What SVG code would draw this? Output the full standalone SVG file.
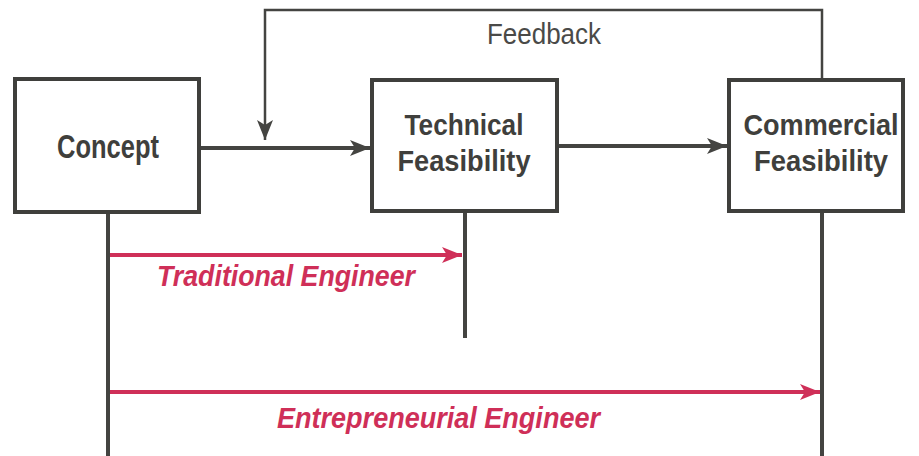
<svg xmlns="http://www.w3.org/2000/svg" width="919" height="456" viewBox="0 0 919 456">
<style>
.box{fill:#fff;stroke:#3f3f3c;stroke-width:4}
.lbl{font-family:"Liberation Sans",Arial,sans-serif;font-weight:bold;font-size:30px;fill:#3f3f3c;text-anchor:middle}
.ln{fill:none;stroke:#444441;stroke-width:4}
.red{fill:none;stroke:#cf2f58;stroke-width:4}
.rt{font-family:"Liberation Sans",Arial,sans-serif;font-weight:bold;font-style:italic;font-size:29px;fill:#cf2f58}
</style>
<defs>
<marker id="ag" viewBox="0 0 20 16" refX="20" refY="8" markerWidth="20" markerHeight="16" markerUnits="userSpaceOnUse" orient="auto"><path d="M0,0 L20,8 L0,16 L5,8 Z" fill="#444441"/></marker>
<marker id="ar" viewBox="0 0 20 16" refX="20" refY="8" markerWidth="20" markerHeight="16" markerUnits="userSpaceOnUse" orient="auto"><path d="M0,0 L20,8 L0,16 L5,8 Z" fill="#cf2f58"/></marker>
</defs>
<g id="connectors">
<path class="ln" d="M199,148 L370,148" marker-end="url(#ag)"/>
<path class="ln" d="M557,146 L727,146" marker-end="url(#ag)"/>
<path class="ln" style="stroke-width:2.5" d="M822,80 L822,10 L265,10 L265,140" marker-end="url(#ag)"/>
<path class="ln" d="M108,212 L108,456"/>
<path class="ln" d="M465,211 L465,338"/>
<path class="ln" d="M822,211 L822,456"/>
<path class="red" d="M110,255 L462,255" marker-end="url(#ar)"/>
<path class="red" d="M110,392 L820,392" marker-end="url(#ar)"/>
<text x="487" y="44" font-family="Liberation Sans,Arial,sans-serif" font-size="29" fill="#4a4a48" textLength="114" lengthAdjust="spacingAndGlyphs">Feedback</text>
<text class="rt" x="157" y="286" textLength="258" lengthAdjust="spacingAndGlyphs">Traditional Engineer</text>
<text class="rt" x="277" y="428" textLength="323" lengthAdjust="spacingAndGlyphs">Entrepreneurial Engineer</text>
</g>
<g id="concept">
<rect class="box" x="15" y="79" width="184" height="133"/>
<text class="lbl" x="108" y="158" style="font-size:33px" textLength="102" lengthAdjust="spacingAndGlyphs">Concept</text>
</g>
<g id="technical">
<rect class="box" x="372" y="80" width="185" height="131"/>
<text class="lbl" x="464" y="135" textLength="119" lengthAdjust="spacingAndGlyphs">Technical</text>
<text class="lbl" x="464" y="171" textLength="133" lengthAdjust="spacingAndGlyphs">Feasibility</text>
</g>
<g id="commercial">
<rect class="box" x="729" y="80" width="174" height="131"/>
<text class="lbl" x="821" y="135" textLength="155" lengthAdjust="spacingAndGlyphs">Commercial</text>
<text class="lbl" x="821" y="171" textLength="134" lengthAdjust="spacingAndGlyphs">Feasibility</text>
</g>
</svg>
